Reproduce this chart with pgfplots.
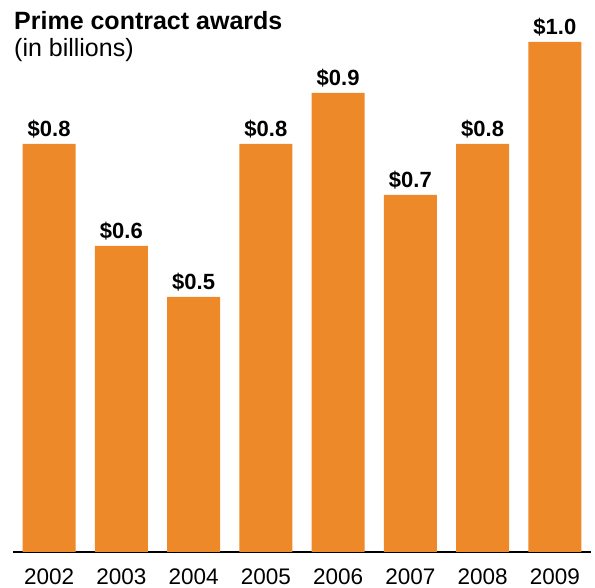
\documentclass[border=0pt]{standalone}
\usepackage{pgfplots}
\pgfplotsset{compat=1.18}
\usepackage{fontspec}
\setmainfont{Liberation Sans}
\definecolor{barorange}{RGB}{237,137,40}
\begin{document}
\begin{tikzpicture}
% prime contract awards, billions
\begin{axis}[
    scale only axis,
    width=578bp, height=510bp,
    xmin=-0.5, xmax=7.5,
    ymin=0, ymax=1,
    axis x line*=bottom,
    hide y axis,
    x axis line style={line width=2bp, black},
    xtick={0,...,7},
    xticklabels={2002,2003,2004,2005,2006,2007,2008,2009},
    xtick style={draw=none},
    xticklabel style={anchor=base, yshift=-28bp, font=\fontsize{22.5bp}{27bp}\selectfont},
    clip=false,
    ybar, bar width=53bp, bar shift=0pt,
    nodes near coords={\$\pgfmathprintnumber[fixed,fixed zerofill,precision=1,assume math mode=true]{\pgfplotspointmeta}},
    nodes near coords style={anchor=base, yshift=7bp, font=\bfseries\fontsize{22bp}{26bp}\selectfont},
]
\addplot[fill=barorange, draw=none] coordinates {
    (0,0.8) (1,0.6) (2,0.5) (3,0.8) (4,0.9) (5,0.7) (6,0.8) (7,1.0)
};
\end{axis}
\node[anchor=base west, inner sep=0pt, font=\bfseries\fontsize{25bp}{30bp}\selectfont] at (1bp,522bp) {Prime contract awards};
\node[anchor=base west, inner sep=0pt, font=\fontsize{25bp}{30bp}\selectfont] at (1bp,495bp) {(in billions)};
\path[use as bounding box] (-13bp,-30bp) rectangle (582bp,552bp);
\end{tikzpicture}
\end{document}
